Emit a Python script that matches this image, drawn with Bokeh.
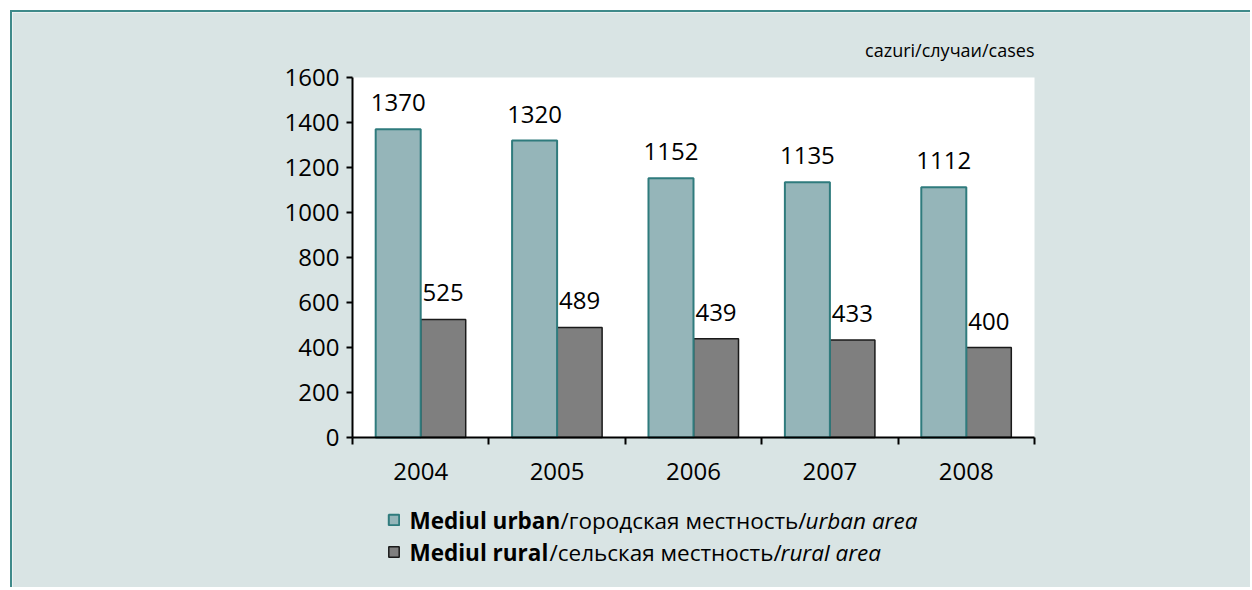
import numpy as np
from bokeh.plotting import figure
from bokeh.models import (Range1d, FixedTicker, ColumnDataSource, LabelSet, Label,
                          Legend, LegendItem, BoxAnnotation)
from bokeh.core.properties import value
from bokeh.embed import file_html
from bokeh.resources import INLINE

# ---- data ----
years = ["2004", "2005", "2006", "2007", "2008"]
urban = [1370, 1320, 1152, 1135, 1112]
rural = [525, 489, 439, 433, 400]
y_ticks = [0, 200, 400, 600, 800, 1000, 1200, 1400, 1600]
y_max = 1600
unit_label = "cazuri/случаи/cases"
legend_bold = ["Mediul urban", "Mediul rural"]
legend_ru = ["/городская местность/", "/сельская местность/"]
legend_en = ["urban area", "rural area"]

# ---- styles / layout (page pixels) ----
FONT = "Open Sans"
BG = "#d9e4e4"
BORDER = "#3f8a8a"
URBAN_FILL = "#95b5b9"
URBAN_LINE = "#2f7b7d"
RURAL_FILL = "#7f7f7f"
RURAL_LINE = "#1a1a1a"

OX, OY = 12, 12            # canvas origin on the page (after margin + border)
W, H = 1240, 577           # canvas size
PL, PR, PT, PB = 352, 1034, 77, 437   # plot area on the page

def sx(px):                # page x -> screen x relative to frame (frame == canvas)
    return px - OX

def sy(py):                # page y -> screen y (from bottom) relative to frame
    return OY + H - py

n = len(years)
xpp = n / (PR - PL)              # data units per pixel (x)
ypp = y_max / (PB - PT)          # data units per pixel (y)
x_range = Range1d((OX - PL) * xpp, (OX + W - PL) * xpp)
y_range = Range1d((PB - (OY + H)) * ypp, (PB - OY) * ypp)

p = figure(width=W, height=H, output_backend="svg", toolbar_location=None,
           x_range=x_range, y_range=y_range,
           min_border_left=0, min_border_right=0, min_border_top=0, min_border_bottom=0)
p.styles = {"margin-left": "10px", "margin-top": "10px",
            "border-left": f"2px solid {BORDER}", "border-top": f"2px solid {BORDER}"}
p.border_fill_color = BG
p.background_fill_color = BG
p.outline_line_color = None
p.grid.visible = False
p.title.visible = False

# white plot area
p.add_layout(BoxAnnotation(left=0, right=n, bottom=0, top=y_max, fill_color="white",
                           fill_alpha=1, line_color=None, level="underlay"))

x = np.arange(n) + 0.5
bw = 0.33
src = ColumnDataSource(dict(
    xu=x - bw / 2, xr=x + bw / 2, urban=urban, rural=rural,
    ul=[str(v) for v in urban], rl=[str(v) for v in rural]))

rr = p.vbar(x="xr", top="rural", bottom=0, width=bw, source=src,
            fill_color=RURAL_FILL, line_color=RURAL_LINE, line_width=1.5)
ru = p.vbar(x="xu", top="urban", bottom=0, width=bw, source=src,
            fill_color=URBAN_FILL, line_color=URBAN_LINE, line_width=2)

for col, lab, xc in (("urban", "ul", "xu"), ("rural", "rl", "xr")):
    p.add_layout(LabelSet(x=xc, y=col, text=lab, source=src, y_offset=18,
                          text_align="center", text_baseline="alphabetic",
                          text_font=value(FONT), text_font_size="24px",
                          text_color="black"))

# x axis: labels at centres, ticks at category boundaries
xa = p.xaxis[0]
xa.fixed_location = 0
xa.bounds = (0, n)
xa.ticker = FixedTicker(ticks=list(x), minor_ticks=list(range(n + 1)))
xa.major_label_overrides = {float(xi): yr for xi, yr in zip(x, years)}
xa.major_tick_out = 0
xa.major_tick_in = 0
xa.minor_tick_out = 7
xa.minor_tick_in = 0
xa.minor_tick_line_color = "black"
xa.minor_tick_line_width = 2
xa.axis_line_width = 2
xa.axis_line_color = "black"
xa.major_label_standoff = 18
xa.major_label_text_font = FONT
xa.major_label_text_font_size = "24px"
xa.major_label_text_color = "black"

ya = p.yaxis[0]
ya.fixed_location = 0
ya.bounds = (0, y_max)
ya.ticker = FixedTicker(ticks=y_ticks)
ya.major_tick_out = 6
ya.major_tick_in = 0
ya.major_tick_line_width = 2
ya.major_tick_line_color = "black"
ya.minor_tick_out = 0
ya.minor_tick_in = 0
ya.axis_line_width = 2
ya.axis_line_color = "black"
ya.major_label_standoff = 7
ya.major_label_text_font = FONT
ya.major_label_text_font_size = "24px"
ya.major_label_text_color = "black"

# unit label
p.add_layout(Label(x=sx(1034), y=sy(49), x_units="screen", y_units="screen", text=unit_label,
                   text_align="right", text_baseline="alphabetic",
                   text_font=FONT, text_font_size="18px", text_color="black"))

# legend swatches
legend = Legend(items=[LegendItem(label=" ", renderers=[ru]),
                       LegendItem(label=" ", renderers=[rr])],
                location=(sx(387), sy(558)), orientation="vertical",
                glyph_width=13, glyph_height=13, label_height=13, label_width=1,
                spacing=19, padding=0, margin=0, border_line_color=None,
                background_fill_alpha=0, label_text_font_size="1px")
p.add_layout(legend)

# legend texts
rows_y = [520, 552]
seg_x = [(409, 560, 805), (409, 549, 780)]
for i in range(2):
    xs = seg_x[i]
    for txt, xx, style in ((legend_bold[i], xs[0], "bold"),
                           (legend_ru[i], xs[1], "normal"),
                           (legend_en[i], xs[2], "italic")):
        p.add_layout(Label(x=sx(xx), y=sy(rows_y[i]), x_units="screen", y_units="screen",
                           text=txt, text_align="left", text_baseline="alphabetic",
                           text_font=FONT, text_font_size="22.5px",
                           text_font_style=style, text_color="black"))

open("out.html", "w").write(file_html(p, INLINE))
